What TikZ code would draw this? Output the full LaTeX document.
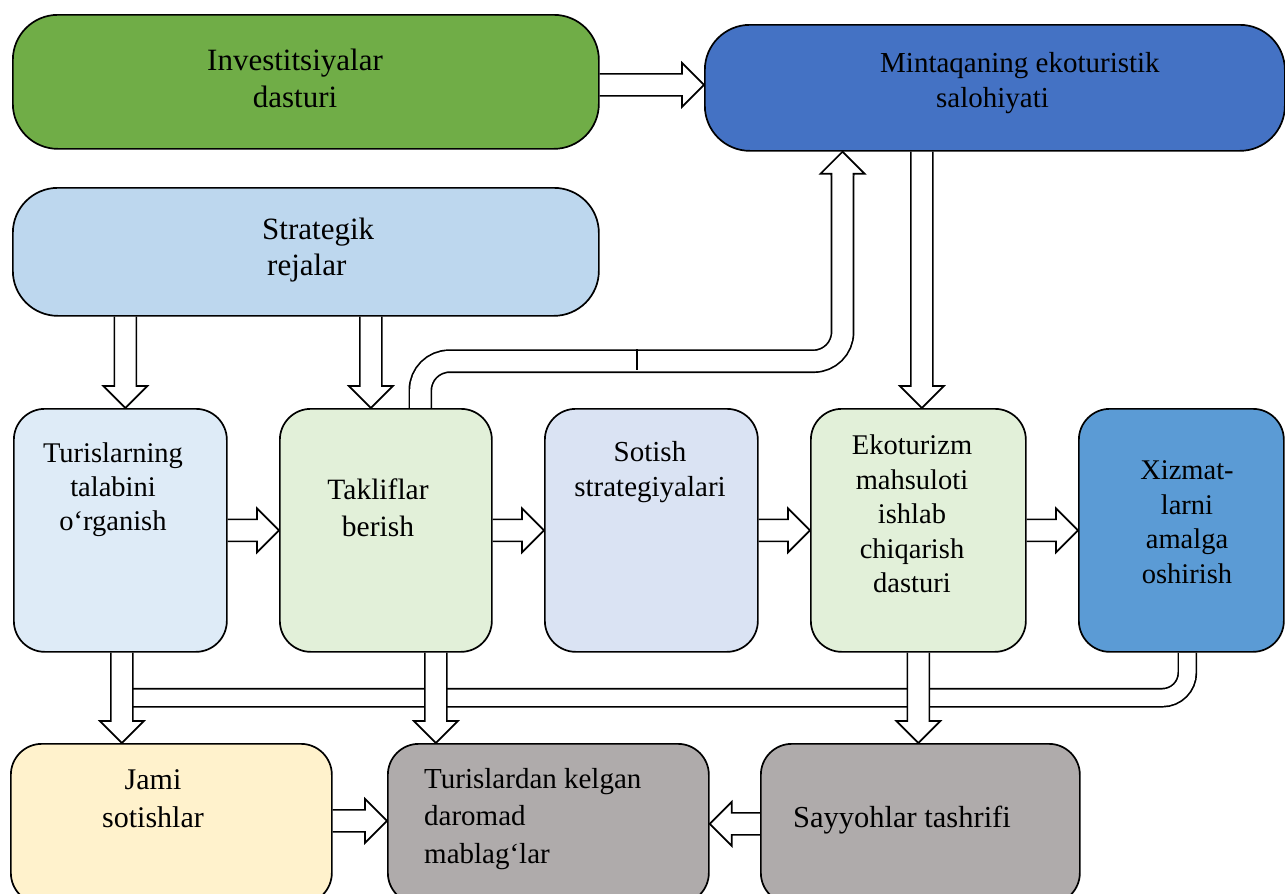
\documentclass[tikz,border=0pt]{standalone}
\usepackage{fontspec}
\setmainfont{Liberation Serif}
\usetikzlibrary{calc}
\pgfdeclarelayer{pipes}
\pgfdeclarelayer{arrows}
\pgfsetlayers{pipes,arrows,main}
\definecolor{investgreen}{HTML}{70AD47}
\definecolor{regionblue}{HTML}{4472C4}
\definecolor{planblue}{HTML}{BDD7EE}
\definecolor{studyblue}{HTML}{DEEBF7}
\definecolor{offergreen}{HTML}{E2F0D9}
\definecolor{saleblue}{HTML}{DAE3F3}
\definecolor{serviceblue}{HTML}{5B9BD5}
\definecolor{totalcream}{HTML}{FFF2CC}
\definecolor{incomegrey}{HTML}{AFABAB}
\begin{document}
\begin{tikzpicture}[x=1pt,y=-1pt]
            \tikzstyle{pane}=[draw, line width=1.7pt, inner sep=0pt, anchor=north west, rounded corners=31pt]
            \tikzstyle{wide pane}=[pane, rounded corners=45pt]
            \tikzstyle{words}=[inner sep=0pt, align=center, font=\fontsize{29}{35}\selectfont]
            \tikzstyle{pipe}=[line width=1.7pt, double=white, double distance=20.3pt, rounded corners=29pt]
            \tikzstyle{blk}=[draw, fill=white, line width=1.7pt, to path={
                ($(\tikztostart)!11pt!90:(\tikztotarget)$)
                -- ($(\tikztotarget)!22pt!(\tikztostart)!11pt!90:(\tikztotarget)$)
                -- ($(\tikztotarget)!22pt!(\tikztostart)!22pt!90:(\tikztotarget)$)
                -- (\tikztotarget)
                -- ($(\tikztotarget)!22pt!(\tikztostart)!22pt!-90:(\tikztotarget)$)
                -- ($(\tikztotarget)!22pt!(\tikztostart)!11pt!-90:(\tikztotarget)$)
                -- ($(\tikztostart)!11pt!-90:(\tikztotarget)$)}]
            \useasboundingbox (0,0) rectangle (1285,894);
            % top blocks
            \node[wide pane, fill=investgreen, minimum width=586pt, minimum height=134pt] (inv) at (12,14) {};
            \node[wide pane, fill=regionblue, minimum width=580pt, minimum height=126pt] (mint) at (704,24) {};
            \node[wide pane, fill=planblue, minimum width=586pt, minimum height=128pt] (strat) at (12,187) {};
            % middle row
            \node[pane, fill=studyblue, minimum width=213pt, minimum height=243pt] (tur) at (13,408) {};
            \node[pane, fill=offergreen, minimum width=212pt, minimum height=243pt] (tak) at (279,408) {};
            \node[pane, fill=saleblue, minimum width=213pt, minimum height=243pt] (sot) at (544,408) {};
            \node[pane, fill=offergreen, minimum width=215pt, minimum height=243pt] (eko) at (810,408) {};
            \node[pane, fill=serviceblue, minimum width=205pt, minimum height=243pt] (xiz) at (1078,408) {};
            % bottom row
            \node[pane, fill=totalcream, minimum width=321pt, minimum height=160pt] (jami) at (10,743) {};
            \node[pane, fill=incomegrey, minimum width=321pt, minimum height=160pt] (tdm) at (387,743) {};
            \node[pane, fill=incomegrey, minimum width=319pt, minimum height=160pt] (say) at (760,743) {};
            % texts
            \node[words, font=\fontsize{31}{37}\selectfont] (invtext) at (295,78) {Investitsiyalar\\dasturi};
            \node[words, align=left, anchor=west] (minttext) at (880,83) {Mintaqaning ekoturistik\\\hspace*{56pt}salohiyati};
            \node[words, align=left, anchor=west, font=\fontsize{31}{36}\selectfont] (strattext) at (262,250) {Strategik\\\hspace*{5pt}rejalar};
            \node[words, font=\fontsize{28.5}{34}\selectfont] (turtext) at (113,490) {Turislarning\\talabini\\o‘rganish};
            \node[words, font=\fontsize{29.5}{37}\selectfont] (taktext) at (378,508) {Takliflar\\berish};
            \node[words] (sottext) at (650,472) {Sotish\\strategiyalari};
            \node[words, font=\fontsize{28.5}{34.5}\selectfont] (ekotext) at (912,514) {Ekoturizm\\mahsuloti\\ishlab\\chiqarish\\dasturi};
            \node[words, font=\fontsize{28.5}{34.5}\selectfont] (xiztext) at (1187,522) {Xizmat-\\larni\\amalga\\oshirish};
            \node[words, font=\fontsize{30}{38}\selectfont] (jamitext) at (153,799) {Jami\\sotishlar};
            \node[words, align=left, anchor=west, font=\fontsize{29}{37.5}\selectfont] (tdmtext) at (424,819) {Turislardan kelgan\\daromad\\mablag‘lar};
            \node[words, font=\fontsize{30.5}{36}\selectfont] (saytext) at (902,820) {Sayyohlar tashrifi};
            % bent pipes under everything
            \begin{pgfonlayer}{pipes}
                \draw[pipe, double distance=16.3pt, rounded corners=25pt] ($(xiz.south)+(6,0)$) |- ($(tur.south)+(1.5,45)$);
                \draw[pipe] ($(tak.north)+(34.5,0)$) |- ($(mint.south)+(-152.3,209.5)$) -- ($(mint.south)+(-152.3,22)$);
                \draw[line width=1.7pt] ($(tak.north)+(251,-59)$) -- ++(0,21);
            \end{pgfonlayer}
            % block arrows
            \begin{pgfonlayer}{arrows}
                \draw[blk] ($(inv.east)+(0,3)$) to ($(inv.east -| mint.west)+(0,3)$);
                \draw[blk] ($(tur.north |- strat.south)+(5,0)$) to ($(tur.north)+(5,0)$);
                \draw[blk] ($(tak.north |- strat.south)+(-15,0)$) to ($(tak.north)+(-15,0)$);
                \draw[blk] ($(mint.south)+(-152.3,24)$) to ($(mint.south)+(-152.3,0)$);
                \draw[blk] ($(eko.north |- mint.south)+(3.5,0)$) to ($(eko.north)+(3.5,0)$);
                \draw[blk] (tur.east) to (tak.west);
                \draw[blk] (tak.east) to (sot.west);
                \draw[blk] (sot.east) to (eko.west);
                \draw[blk] (eko.east) to (xiz.west);
                \draw[blk] ($(tur.south)+(1.5,0)$) to ($(tur.south |- jami.north)+(1.5,0)$);
                \draw[blk] ($(tak.south)+(50,0)$) to ($(tak.south |- tdm.north)+(50,0)$);
                \draw[blk] (eko.south) to (eko.south |- say.north);
                \draw[blk] ($(jami.east)+(0,-3)$) to ($(jami.east -| tdm.west)+(0,-3)$);
                \draw[blk] (say.west) to (tdm.east);
            \end{pgfonlayer}
\end{tikzpicture}
\end{document}
